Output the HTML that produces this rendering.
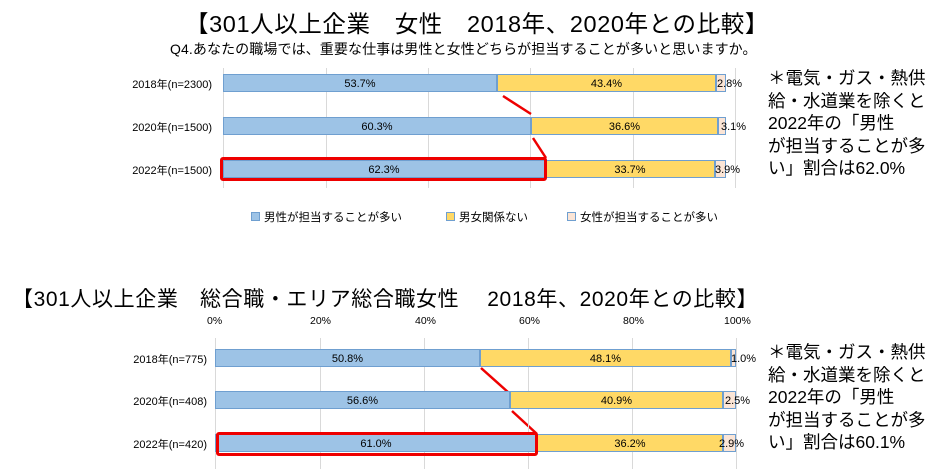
<!DOCTYPE html>
<html><head><meta charset="utf-8"><style>
body{margin:0;width:926px;height:469px;background:#fff;position:relative;overflow:hidden;font-family:"Liberation Sans","Noto Sans CJK JP",sans-serif;color:#000}
.a{position:absolute;white-space:nowrap}
.seg{position:absolute;height:18px;box-sizing:border-box;font-size:11px;line-height:18px;text-align:center;overflow:visible}
.b{background:#9dc3e6;border:1px solid #6f9fd0}
.y{background:#ffd966;border:1px solid #6f9fd0}
.p{background:#fbe5d6;border:1px solid #6f9fd0}
.g{position:absolute;width:1px;background:#d9d9d9}
.lab{position:absolute;font-size:11px;text-align:right;width:120px}
.note{position:absolute;font-size:17.5px;line-height:22.5px;left:768px;white-space:nowrap;width:160px}
.red{position:absolute;border:3px solid #e00;border-radius:3px;box-sizing:border-box}
</style></head><body>
<div class="a" style="left:185px;top:5px;font-size:23.5px;letter-spacing:0.6px">【301人以上企業　女性　2018年、2020年との比較】</div>
<div class="a" style="left:170px;top:39px;font-size:14px;letter-spacing:0.1px">Q4.あなたの職場では、重要な仕事は男性と女性どちらが担当することが多いと思いますか。</div>

<div class="g" style="left:223px;top:68px;height:120px"></div>
<div class="g" style="left:326px;top:68px;height:120px"></div>
<div class="g" style="left:428px;top:68px;height:120px"></div>
<div class="g" style="left:530px;top:68px;height:120px"></div>
<div class="g" style="left:633px;top:68px;height:120px"></div>
<div class="g" style="left:735px;top:68px;height:120px"></div>

<div class="lab" style="left:92px;top:76px">2018年(n=2300)</div>
<div class="seg b" style="left:223px;top:74px;width:274px">53.7%</div>
<div class="seg y" style="left:497px;top:74px;width:219px">43.4%</div>
<div class="seg p" style="left:716px;top:74px;width:10px"><span style="position:absolute;left:0">2.8%</span></div>

<div class="lab" style="left:92px;top:119px">2020年(n=1500)</div>
<div class="seg b" style="left:223px;top:117px;width:308px">60.3%</div>
<div class="seg y" style="left:531px;top:117px;width:187px">36.6%</div>
<div class="seg p" style="left:718px;top:117px;width:8px"><span style="position:absolute;left:2px">3.1%</span></div>

<div class="lab" style="left:92px;top:162px">2022年(n=1500)</div>
<div class="seg b" style="left:223px;top:160px;width:322px">62.3%</div>
<div class="seg y" style="left:545px;top:160px;width:170px">33.7%</div>
<div class="seg p" style="left:715px;top:160px;width:11px"><span style="position:absolute;left:-1px">3.9%</span></div>
<div class="red" style="left:220px;top:157px;width:327px;height:24px"></div>

<svg class="a" style="left:0;top:0" width="926" height="469">
<line x1="503" y1="96" x2="531" y2="114" stroke="#e00" stroke-width="2.5"/>
<line x1="533" y1="138" x2="546" y2="158" stroke="#e00" stroke-width="2.5"/>
<line x1="481" y1="368" x2="509" y2="393" stroke="#e00" stroke-width="2.5"/>
<line x1="512" y1="411" x2="537" y2="434" stroke="#e00" stroke-width="2.5"/>
</svg>

<div class="a" style="left:251px;top:209px;font-size:11.5px"><span style="display:inline-block;width:7px;height:7px;background:#9dc3e6;border:1px solid #6f9fd0;margin-right:4px"></span>男性が担当することが多い</div>
<div class="a" style="left:446px;top:209px;font-size:11.5px"><span style="display:inline-block;width:7px;height:7px;background:#ffd966;border:1px solid #6f9fd0;margin-right:4px"></span>男女関係ない</div>
<div class="a" style="left:567px;top:209px;font-size:11.5px"><span style="display:inline-block;width:7px;height:7px;background:#fbe5d6;border:1px solid #6f9fd0;margin-right:4px"></span>女性が担当することが多い</div>

<div class="note" style="top:67px">＊電気・ガス・熱供<br>給・水道業を除くと<br>2022年の「男性<br>が担当することが多<br>い」割合は62.0%</div>

<div class="a" style="left:12px;top:283px;font-size:21px;letter-spacing:0.6px">【301人以上企業　総合職・エリア総合職女性　 2018年、2020年との比較】</div>
<div class="a" style="left:207px;top:315px;font-size:10.5px">0%</div>
<div class="a" style="left:310px;top:315px;font-size:10.5px">20%</div>
<div class="a" style="left:415px;top:315px;font-size:10.5px">40%</div>
<div class="a" style="left:519px;top:315px;font-size:10.5px">60%</div>
<div class="a" style="left:623px;top:315px;font-size:10.5px">80%</div>
<div class="a" style="left:724px;top:315px;font-size:10.5px">100%</div>

<div class="g" style="left:215px;top:338px;height:131px"></div>
<div class="g" style="left:320px;top:338px;height:131px"></div>
<div class="g" style="left:424px;top:338px;height:131px"></div>
<div class="g" style="left:528px;top:338px;height:131px"></div>
<div class="g" style="left:632px;top:338px;height:131px"></div>
<div class="g" style="left:736px;top:338px;height:131px"></div>

<div class="lab" style="left:87px;top:351px">2018年(n=775)</div>
<div class="seg b" style="left:215px;top:349px;width:265px">50.8%</div>
<div class="seg y" style="left:480px;top:349px;width:251px">48.1%</div>
<div class="seg p" style="left:731px;top:349px;width:5px"><span style="position:absolute;left:-1px">1.0%</span></div>

<div class="lab" style="left:87px;top:393px">2020年(n=408)</div>
<div class="seg b" style="left:215px;top:391px;width:295px">56.6%</div>
<div class="seg y" style="left:510px;top:391px;width:213px">40.9%</div>
<div class="seg p" style="left:723px;top:391px;width:13px"><span style="position:absolute;left:1px">2.5%</span></div>

<div class="lab" style="left:87px;top:436px">2022年(n=420)</div>
<div class="seg b" style="left:215px;top:434px;width:322px">61.0%</div>
<div class="seg y" style="left:537px;top:434px;width:186px">36.2%</div>
<div class="seg p" style="left:723px;top:434px;width:13px"><span style="position:absolute;left:-5px">2.9%</span></div>
<div class="red" style="left:216px;top:432px;width:322px;height:24px"></div>

<div class="note" style="top:341px">＊電気・ガス・熱供<br>給・水道業を除くと<br>2022年の「男性<br>が担当することが多<br>い」割合は60.1%</div>
</body></html>
